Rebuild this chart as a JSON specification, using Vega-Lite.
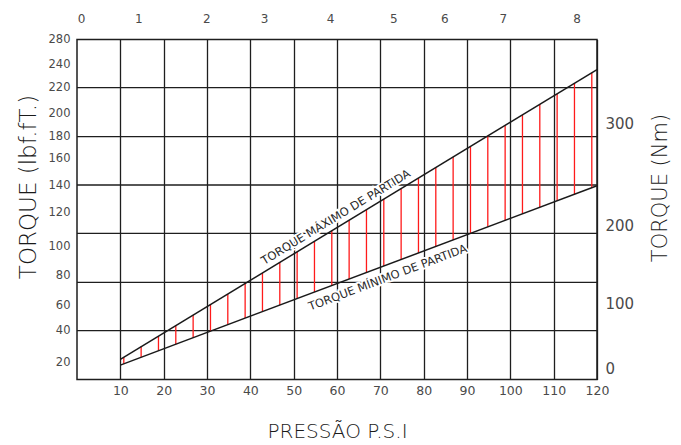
{
  "$schema": "https://vega.github.io/schema/vega-lite/v6.json",
  "width": 520,
  "height": 340,
  "autosize": {"type": "none"},
  "padding": {"left": 77, "top": 39.5, "right": 84, "bottom": 65.5},
  "config": {
    "view": {"stroke": "#1e1e1e", "strokeWidth": 1.5},
    "font": "DejaVu Sans",
    "axis": {"labelFont": "DejaVu Sans", "titleFont": "DejaVu Sans", "labelColor": "#4a4a4a", "titleColor": "#1a1a1a", "titleFontWeight": 200, "labelFontWeight": "normal", "labelOverlap": false, "tickCount": 30, "format": "d"}
  },
  "datasets": {
    "grid": [{"torque": 220}, {"torque": 180}, {"torque": 140}, {"torque": 107.7}, {"torque": 75.6}, {"torque": 40}],
    "lines": [
      {"psi": 10, "torque": 22.0, "series": "max"},
      {"psi": 120, "torque": 235.8, "series": "max"},
      {"psi": 10, "torque": 18.4, "series": "min"},
      {"psi": 120, "torque": 139.4, "series": "min"}
    ],
    "spans": [
      {"psi": 10.8, "min": 19.3, "max": 23.3},
      {"psi": 14.8, "min": 23.4, "max": 30.0},
      {"psi": 18.8, "min": 27.4, "max": 36.6},
      {"psi": 22.8, "min": 31.5, "max": 44.1},
      {"psi": 26.8, "min": 35.6, "max": 52.5},
      {"psi": 30.8, "min": 39.7, "max": 60.8},
      {"psi": 34.8, "min": 44.9, "max": 67.8},
      {"psi": 38.8, "min": 50.1, "max": 74.9},
      {"psi": 42.8, "min": 55.3, "max": 81.9},
      {"psi": 46.8, "min": 60.4, "max": 89.1},
      {"psi": 50.8, "min": 64.8, "max": 96.3},
      {"psi": 54.8, "min": 69.1, "max": 103.0},
      {"psi": 58.8, "min": 73.5, "max": 109.2},
      {"psi": 62.8, "min": 77.8, "max": 115.4},
      {"psi": 66.8, "min": 82.2, "max": 122.0},
      {"psi": 70.8, "min": 86.7, "max": 129.7},
      {"psi": 74.8, "min": 91.1, "max": 137.4},
      {"psi": 78.8, "min": 95.6, "max": 145.1},
      {"psi": 82.8, "min": 100.0, "max": 152.9},
      {"psi": 86.8, "min": 103.8, "max": 160.9},
      {"psi": 90.8, "min": 107.7, "max": 170.8},
      {"psi": 94.8, "min": 111.5, "max": 180.6},
      {"psi": 98.8, "min": 115.3, "max": 189.5},
      {"psi": 102.8, "min": 119.2, "max": 198.4},
      {"psi": 106.8, "min": 123.7, "max": 206.9},
      {"psi": 110.8, "min": 128.5, "max": 215.2},
      {"psi": 114.8, "min": 133.2, "max": 223.9},
      {"psi": 118.8, "min": 138.0, "max": 233.0}
    ],
    "notes": [
      {"psi": 60.9, "torque": 112.3, "series": "max", "label": "TORQUE MÁXIMO DE PARTIDA"},
      {"psi": 70.7, "torque": 86.6, "series": "min", "label": "TORQUE MÍNIMO DE PARTIDA"}
    ],
    "bar": [{"bar": 0}, {"bar": 1}, {"bar": 2}, {"bar": 3}, {"bar": 4}, {"bar": 5}, {"bar": 6}, {"bar": 7}, {"bar": 8}],
    "nm": [{"nm": 0}, {"nm": 100}, {"nm": 200}, {"nm": 300}]
  },
  "layer": [
    {
      "layer": [
        {
          "data": {"name": "grid"},
          "mark": {"type": "rule", "color": "#1e1e1e", "strokeWidth": 1.3},
          "encoding": {
            "y": {
              "field": "torque", "type": "quantitative",
              "scale": {"type": "linear", "domain": [9.5, 20, 40, 60, 80, 100, 120, 140, 160, 180, 200, 220, 240, 280], "range": [340, 323.0, 291.2, 266.2, 236.2, 206.9, 172.9, 145.5, 118.5, 97.2, 73.5, 48.2, 25.2, 0], "nice": false, "zero": false},
              "axis": {"orient": "left", "values": [20, 40, 60, 80, 100, 120, 140, 160, 180, 200, 220, 240, 280], "format": "d", "tickCount": 30, "grid": false, "ticks": false, "domain": false, "labelPadding": 7, "labelFontSize": 11.5, "labelOverlap": false, "title": "TORQUE (lbf.fT.)", "titleFontSize": 23, "titleAngle": 270, "titleX": -49, "titleY": 147, "titleBaseline": "middle", "titleAlign": "center"}
            }
          }
        },
        {
          "data": {"name": "spans"},
          "mark": {"type": "rule", "color": "#ff1a1a", "strokeWidth": 1.3},
          "encoding": {
            "x": {
              "field": "psi", "type": "quantitative",
              "scale": {"type": "linear", "domain": [0, 120], "nice": false, "zero": false},
              "axis": {"orient": "bottom", "values": [10, 20, 30, 40, 50, 60, 70, 80, 90, 100, 110, 120], "format": "d", "tickCount": 30, "grid": true, "gridColor": "#1e1e1e", "gridWidth": 1.3, "gridOpacity": 1, "ticks": false, "domain": false, "labelPadding": 5, "labelFontSize": 12.5, "labelFlush": false, "labelOverlap": false, "title": "PRESSÃO P.S.I", "titleFontSize": 20, "titleY": 51.5, "titleBaseline": "middle"}
            },
            "y": {"field": "min", "type": "quantitative", "scale": {"type": "linear", "domain": [9.5, 20, 40, 60, 80, 100, 120, 140, 160, 180, 200, 220, 240, 280], "range": [340, 323.0, 291.2, 266.2, 236.2, 206.9, 172.9, 145.5, 118.5, 97.2, 73.5, 48.2, 25.2, 0], "nice": false, "zero": false}},
            "y2": {"field": "max"}
          }
        },
        {
          "data": {"name": "lines"},
          "mark": {"type": "line", "color": "#1a1a1a", "strokeWidth": 1.5},
          "encoding": {
            "x": {"field": "psi", "type": "quantitative", "scale": {"type": "linear", "domain": [0, 120], "nice": false, "zero": false}},
            "y": {"field": "torque", "type": "quantitative", "scale": {"type": "linear", "domain": [9.5, 20, 40, 60, 80, 100, 120, 140, 160, 180, 200, 220, 240, 280], "range": [340, 323.0, 291.2, 266.2, 236.2, 206.9, 172.9, 145.5, 118.5, 97.2, 73.5, 48.2, 25.2, 0], "nice": false, "zero": false}},
            "detail": {"field": "series"}
          }
        },
        {
          "data": {"name": "notes"},
          "transform": [{"filter": "datum.series === 'max'"}],
          "mark": {"type": "text", "angle": -31.3, "dy": -9, "fontSize": 11.5, "letterSpacing": 0.2, "color": "#ffffff", "stroke": "#ffffff", "strokeWidth": 3.5, "align": "center", "baseline": "middle"},
          "encoding": {
            "x": {"field": "psi", "type": "quantitative", "scale": {"type": "linear", "domain": [0, 120], "nice": false, "zero": false}},
            "y": {"field": "torque", "type": "quantitative", "scale": {"type": "linear", "domain": [9.5, 20, 40, 60, 80, 100, 120, 140, 160, 180, 200, 220, 240, 280], "range": [340, 323.0, 291.2, 266.2, 236.2, 206.9, 172.9, 145.5, 118.5, 97.2, 73.5, 48.2, 25.2, 0], "nice": false, "zero": false}},
            "text": {"field": "label"}
          }
        },
        {
          "data": {"name": "notes"},
          "transform": [{"filter": "datum.series === 'min'"}],
          "mark": {"type": "text", "angle": -20.6, "dy": 13, "fontSize": 11.5, "letterSpacing": 0.2, "color": "#ffffff", "stroke": "#ffffff", "strokeWidth": 3.5, "align": "center", "baseline": "middle"},
          "encoding": {
            "x": {"field": "psi", "type": "quantitative", "scale": {"type": "linear", "domain": [0, 120], "nice": false, "zero": false}},
            "y": {"field": "torque", "type": "quantitative", "scale": {"type": "linear", "domain": [9.5, 20, 40, 60, 80, 100, 120, 140, 160, 180, 200, 220, 240, 280], "range": [340, 323.0, 291.2, 266.2, 236.2, 206.9, 172.9, 145.5, 118.5, 97.2, 73.5, 48.2, 25.2, 0], "nice": false, "zero": false}},
            "text": {"field": "label"}
          }
        },
        {
          "data": {"name": "notes"},
          "transform": [{"filter": "datum.series === 'max'"}],
          "mark": {"type": "text", "angle": -31.3, "dy": -9, "fontSize": 11.5, "letterSpacing": 0.2, "color": "#2a2a2a", "align": "center", "baseline": "middle"},
          "encoding": {
            "x": {"field": "psi", "type": "quantitative", "scale": {"type": "linear", "domain": [0, 120], "nice": false, "zero": false}},
            "y": {"field": "torque", "type": "quantitative", "scale": {"type": "linear", "domain": [9.5, 20, 40, 60, 80, 100, 120, 140, 160, 180, 200, 220, 240, 280], "range": [340, 323.0, 291.2, 266.2, 236.2, 206.9, 172.9, 145.5, 118.5, 97.2, 73.5, 48.2, 25.2, 0], "nice": false, "zero": false}},
            "text": {"field": "label"}
          }
        },
        {
          "data": {"name": "notes"},
          "transform": [{"filter": "datum.series === 'min'"}],
          "mark": {"type": "text", "angle": -20.6, "dy": 13, "fontSize": 11.5, "letterSpacing": 0.2, "color": "#2a2a2a", "align": "center", "baseline": "middle"},
          "encoding": {
            "x": {"field": "psi", "type": "quantitative", "scale": {"type": "linear", "domain": [0, 120], "nice": false, "zero": false}},
            "y": {"field": "torque", "type": "quantitative", "scale": {"type": "linear", "domain": [9.5, 20, 40, 60, 80, 100, 120, 140, 160, 180, 200, 220, 240, 280], "range": [340, 323.0, 291.2, 266.2, 236.2, 206.9, 172.9, 145.5, 118.5, 97.2, 73.5, 48.2, 25.2, 0], "nice": false, "zero": false}},
            "text": {"field": "label"}
          }
        }
      ]
    },
    {
      "data": {"name": "bar"},
      "mark": {"type": "point", "opacity": 0},
      "encoding": {
        "x": {
          "field": "bar", "type": "quantitative",
          "scale": {"type": "linear", "domain": [0, 1, 2, 3, 4, 5, 6, 7, 8], "range": [4, 61.3, 129.4, 187.1, 253.1, 316.4, 367.2, 425.7, 499.5], "nice": false, "zero": false},
          "axis": {"orient": "top", "values": [0, 1, 2, 3, 4, 5, 6, 7, 8], "format": "d", "tickCount": 30, "grid": false, "ticks": false, "domain": false, "labelPadding": 14, "labelFontSize": 12, "labelFlush": false, "labelOverlap": false, "title": null}
        }
      }
    },
    {
      "data": {"name": "nm"},
      "mark": {"type": "point", "opacity": 0},
      "encoding": {
        "y": {
          "field": "nm", "type": "quantitative",
          "scale": {"type": "linear", "domain": [0, 100, 200, 300], "range": [328.8, 263.8, 186.2, 83.8], "nice": false, "zero": false},
          "axis": {"orient": "right", "values": [0, 100, 200, 300], "format": "d", "tickCount": 30, "grid": false, "ticks": false, "domain": false, "labelPadding": 8, "labelFontSize": 15, "labelOverlap": false, "title": "TORQUE (Nm)", "titleFontSize": 21, "titleAngle": 270, "titleX": 63, "titleY": 148, "titleBaseline": "middle", "titleAlign": "center"}
        }
      }
    }
  ],
  "resolve": {"scale": {"x": "independent", "y": "independent"}}
}
